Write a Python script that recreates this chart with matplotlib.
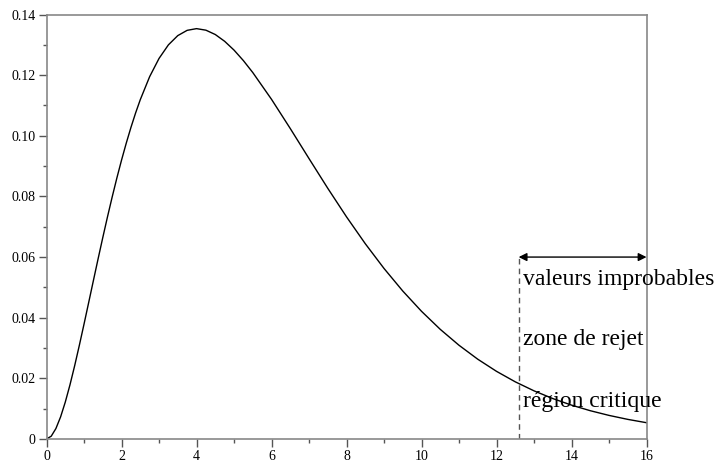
import matplotlib
matplotlib.use('Agg')
import matplotlib.pyplot as plt
from matplotlib.ticker import MultipleLocator

# density values
x = [0, 0.125, 0.25, 0.375, 0.5, 0.625, 0.75, 0.875, 1, 1.125, 1.25, 1.375, 1.5,
     1.625, 1.75, 1.875, 2, 2.125, 2.25, 2.375, 2.5, 2.75, 3, 3.25, 3.5, 3.75,
     4, 4.25, 4.5, 4.75, 5, 5.25, 5.5, 6, 6.5, 7, 7.5, 8, 8.5, 9, 9.5, 10, 10.5,
     11, 11.5, 12, 12.5, 13, 13.5, 14, 14.5, 15, 15.5, 16]
y = [0, 0.00092, 0.00345, 0.00729, 0.01217, 0.01786, 0.02416, 0.03090, 0.03791,
     0.04507, 0.05227, 0.05942, 0.06643, 0.07324, 0.07979, 0.08605, 0.09197,
     0.09753, 0.10272, 0.10752, 0.11191, 0.11951, 0.12551, 0.12999, 0.13304,
     0.13478, 0.13534, 0.13483, 0.13340, 0.13116, 0.12826, 0.12479, 0.12086,
     0.11202, 0.10239, 0.09248, 0.08268, 0.07326, 0.06441, 0.05624, 0.04880,
     0.04211, 0.03616, 0.03091, 0.02631, 0.02231, 0.01885, 0.01588, 0.01334,
     0.01117, 0.00933, 0.00778, 0.00647, 0.00537]

crit = 12.59      # critical value
arrow_y = 0.06
labels = ['valeurs improbables', 'zone de rejet', 'région critique']
label_y = [0.0508, 0.031, 0.0107]

plt.rcParams['font.family'] = 'Liberation Serif'

fig = plt.figure(figsize=(7.17, 4.62), dpi=100)
ax = fig.add_axes([0.0649, 0.0498, 0.8368, 0.9188])

ax.plot(x, y, color='black', lw=1)
ax.plot([crit, crit], [0, arrow_y], color='#555555', lw=1, ls=(0, (4, 3)))
ax.annotate('', xy=(16, arrow_y), xytext=(crit, arrow_y),
            arrowprops=dict(arrowstyle='<|-|>', color='black', lw=1,
                            mutation_scale=12, shrinkA=0, shrinkB=0))
for lab, ly in zip(labels, label_y):
    ax.text(12.7, ly, lab, fontsize=17, ha='left', va='baseline', clip_on=False)

ax.set_xlim(0, 16)
ax.set_ylim(0, 0.14)
ax.xaxis.set_major_locator(MultipleLocator(2))
ax.xaxis.set_minor_locator(MultipleLocator(1))
ax.yaxis.set_major_locator(MultipleLocator(0.02))
ax.yaxis.set_minor_locator(MultipleLocator(0.01))
ax.xaxis.set_major_formatter(plt.FuncFormatter(lambda v, p: '%g' % v))
ax.yaxis.set_major_formatter(plt.FuncFormatter(lambda v, p: '0' if abs(v) < 1e-9 else '%.2f' % v))

for s in ax.spines.values():
    s.set_color('#888888')
    s.set_linewidth(1.2)
ax.tick_params(which='major', direction='out', length=6, width=1, color='#555555',
               labelsize=10, pad=2)
ax.tick_params(which='minor', direction='out', length=3, width=1, color='#555555')

fig.savefig('out.png', dpi=100)
